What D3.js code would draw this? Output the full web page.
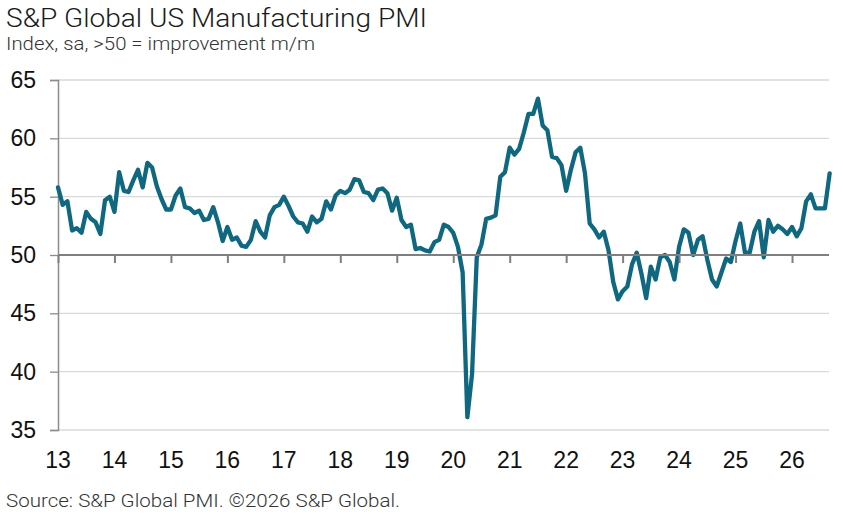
<!DOCTYPE html>
<html>
<head>
<meta charset="utf-8">
<script src="https://cdn.jsdelivr.net/npm/d3@7"></script>
<style>
  html, body { margin: 0; padding: 0; background: #fff; }
  svg { display: block; }
</style>
</head>
<body>
<svg id="chart" width="843" height="522"></svg>
<script>
// ---- Data (monthly, Jan 2013 onward) ----
const startYear = 2013;
const pmi = [
  // 2013
  55.8, 54.3, 54.6, 52.1, 52.3, 51.9, 53.7, 53.1, 52.8, 51.8, 54.7, 55.0,
  // 2014
  53.7, 57.1, 55.5, 55.4, 56.4, 57.3, 55.8, 57.9, 57.5, 55.9, 54.8, 53.9,
  // 2015
  53.9, 55.1, 55.7, 54.1, 54.0, 53.6, 53.8, 53.0, 53.1, 54.1, 52.8, 51.2,
  // 2016
  52.4, 51.3, 51.5, 50.8, 50.7, 51.3, 52.9, 52.0, 51.5, 53.4, 54.1, 54.3,
  // 2017
  55.0, 54.2, 53.3, 52.8, 52.7, 52.0, 53.3, 52.8, 53.1, 54.6, 53.9, 55.1,
  // 2018
  55.5, 55.3, 55.6, 56.5, 56.4, 55.4, 55.3, 54.7, 55.6, 55.7, 55.3, 53.8,
  // 2019
  54.9, 53.0, 52.4, 52.6, 50.5, 50.6, 50.4, 50.3, 51.1, 51.3, 52.6, 52.4,
  // 2020
  51.9, 50.7, 48.5, 36.1, 39.8, 49.8, 50.9, 53.1, 53.2, 53.4, 56.7, 57.1,
  // 2021
  59.2, 58.6, 59.1, 60.5, 62.1, 62.1, 63.4, 61.1, 60.7, 58.4, 58.3, 57.7,
  // 2022
  55.5, 57.3, 58.8, 59.2, 57.0, 52.7, 52.2, 51.5, 52.0, 50.4, 47.7, 46.2,
  // 2023
  46.9, 47.3, 49.2, 50.2, 48.4, 46.3, 49.0, 47.9, 49.8, 50.0, 49.4, 47.9,
  // 2024
  50.7, 52.2, 51.9, 50.0, 51.3, 51.6, 49.6, 47.9, 47.3, 48.5, 49.7, 49.4,
  // 2025
  51.2, 52.7, 50.2, 50.2, 52.0, 52.9, 49.8, 53.0, 52.0, 52.5, 52.2, 51.8,
  // 2026
  52.4, 51.6, 52.3, 54.6, 55.2, 54.0, 54.0, 54.0, 57.0
];
const yTicks = [35, 40, 45, 50, 55, 60, 65];
const xYears = [2013, 2014, 2015, 2016, 2017, 2018, 2019, 2020, 2021, 2022, 2023, 2024, 2025, 2026];
const xTickLabels = ["13", "14", "15", "16", "17", "18", "19", "20", "21", "22", "23", "24", "25", "26"];

const titleText = "S&P Global US Manufacturing PMI";
const subtitleText = "Index, sa, >50 = improvement m/m";
const sourceText = "Source: S&P Global PMI. \u00A92026 S&P Global.";

// ---- Layout ----
const svg = d3.select("#chart");
const mLeft = 58, mRight = 829, mTop = 80, mBottom = 430;

const x = d3.scaleLinear().domain([2013, 2026.655]).range([mLeft, mRight]);
const y = d3.scaleLinear().domain([35, 65]).range([mBottom, mTop]);

const series = pmi.map((v, i) => ({ t: startYear + i / 12, v }));

const lightFont = "Roboto, 'Liberation Sans', sans-serif";

// Title / subtitle
svg.append("text").attr("x", 6).attr("y", 27)
  .attr("font-family", lightFont)
  .attr("font-weight", 300).attr("font-size", 25.5).attr("fill", "#1a1a1a")
  .attr("textLength", 421).attr("lengthAdjust", "spacingAndGlyphs")
  .text(titleText);
svg.append("text").attr("x", 6).attr("y", 50)
  .attr("font-family", lightFont)
  .attr("font-weight", 300).attr("font-size", 17.5).attr("fill", "#333")
  .attr("textLength", 309).attr("lengthAdjust", "spacingAndGlyphs")
  .text(subtitleText);

// Gridlines (except 50)
svg.append("g").selectAll("line")
  .data(yTicks.filter(d => d !== 50))
  .join("line")
  .attr("x1", mLeft).attr("x2", mRight)
  .attr("y1", d => y(d)).attr("y2", d => y(d))
  .attr("stroke", "#d9d9d9").attr("stroke-width", 1.3);

// Y axis
const yAxis = d3.axisLeft(y).tickValues(yTicks).tickSize(8).tickPadding(14).tickFormat(d3.format("d"));
const gy = svg.append("g").attr("transform", `translate(${mLeft},0)`).call(yAxis);
gy.select(".domain").attr("stroke", "#8c8c8c").attr("stroke-width", 1.5);
gy.selectAll(".tick line").attr("stroke", "#8c8c8c").attr("stroke-width", 1.3);
gy.selectAll(".tick text")
  .attr("font-family", "'Liberation Sans', Arial, sans-serif")
  .attr("font-size", 23).attr("fill", "#111");

// Series line
svg.append("path")
  .datum(series)
  .attr("fill", "none")
  .attr("stroke", "#0f6880")
  .attr("stroke-width", 4.3)
  .attr("stroke-linejoin", "round")
  .attr("stroke-linecap", "round")
  .attr("d", d3.line().x(d => x(d.t)).y(d => y(d.v)));

// 50 line with year ticks
const xAxis = d3.axisBottom(x).tickValues(xYears).tickSize(8).tickFormat(() => "");
const gx = svg.append("g").attr("transform", `translate(0,${y(50)})`).call(xAxis);
gx.select(".domain").attr("d", `M${mLeft},0H${mRight}`).attr("stroke", "#7f7f7f").attr("stroke-width", 2);
gx.selectAll(".tick line").attr("stroke", "#7f7f7f").attr("stroke-width", 2);

// X labels at bottom
svg.append("g").selectAll("text")
  .data(xYears)
  .join("text")
  .attr("x", d => x(d))
  .attr("y", 468)
  .attr("text-anchor", "middle")
  .attr("font-family", "'Liberation Sans', Arial, sans-serif")
  .attr("font-size", 23).attr("fill", "#111")
  .text((d, i) => xTickLabels[i]);

// Source
svg.append("text").attr("x", 6).attr("y", 507)
  .attr("font-family", lightFont)
  .attr("font-weight", 300).attr("font-size", 17.5).attr("fill", "#333")
  .attr("textLength", 394).attr("lengthAdjust", "spacingAndGlyphs")
  .text(sourceText);
</script>
</body>
</html>
